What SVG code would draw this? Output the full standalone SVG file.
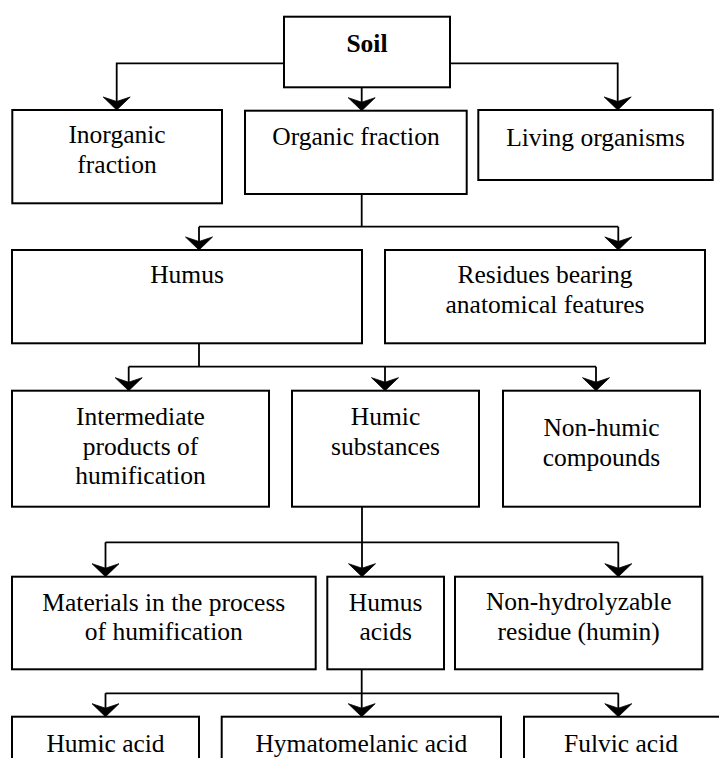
<svg xmlns="http://www.w3.org/2000/svg" width="719" height="758" viewBox="0 0 719 758">
<style>
.box{fill:#fff;stroke:#000;stroke-width:2}
.ln{fill:none;stroke:#000;stroke-width:1.8}
.ah{fill:#000;stroke:#000;stroke-width:0.8;stroke-linejoin:miter}
.t{font-family:'Liberation Serif','Times New Roman','DejaVu Serif',serif;font-size:25.5px;fill:#000;text-anchor:middle}
.b{font-weight:bold}
</style>
<defs>
<path id="ah" class="ah" d="M0,0 L-13.5,-13 L0,-8.5 L13.5,-13 Z"/>
</defs>
<rect width="719" height="758" fill="#fff"/>
<g id="connectors">
<path class="ln" d="M284,63.3 H116.7 V104"/>
<path class="ln" d="M450,63.3 H617.7 V104"/>
<path class="ln" d="M361.7,87.3 V104"/>
<path class="ln" d="M361.7,194 V226.7 M199,226.7 H618.3 M199,226.7 V244 M618.3,226.7 V244"/>
<path class="ln" d="M199,343.3 V366.7 M128.7,366.7 H596 M128.7,366.7 V384 M385,366.7 V384 M596,366.7 V384"/>
<path class="ln" d="M362,506.7 V570 M105.5,542.3 H618.3 M105.5,542.3 V570 M618.3,542.3 V570"/>
<path class="ln" d="M361.7,669.3 V710 M105.5,693.3 H618.3 M105.5,693.3 V710 M618.3,693.3 V710"/>
<use href="#ah" x="116.7" y="110"/>
<use href="#ah" x="617.7" y="110"/>
<use href="#ah" x="361.7" y="110.7"/>
<use href="#ah" x="199" y="250"/>
<use href="#ah" x="618.3" y="250"/>
<use href="#ah" x="128.7" y="390.7"/>
<use href="#ah" x="385" y="390.7"/>
<use href="#ah" x="596" y="390.7"/>
<use href="#ah" x="105.5" y="576.7"/>
<use href="#ah" x="362" y="576.7"/>
<use href="#ah" x="618.3" y="576.7"/>
<use href="#ah" x="105.5" y="716.7"/>
<use href="#ah" x="361.7" y="716.7"/>
<use href="#ah" x="618.3" y="716.7"/>
</g>
<g id="soil"><rect class="box" x="284" y="16.7" width="166" height="70.6"/><text class="t b" x="367" y="52">Soil</text></g>
<g id="inorganic"><rect class="box" x="12.3" y="110" width="209.7" height="93.3"/><text class="t" x="117" y="143.3">Inorganic</text><text class="t" x="117" y="173.3">fraction</text></g>
<g id="organic"><rect class="box" x="245" y="110.7" width="221.7" height="83.3"/><text class="t" x="356" y="145">Organic fraction</text></g>
<g id="living"><rect class="box" x="478.3" y="110" width="234.4" height="70"/><text class="t" x="595.5" y="146">Living organisms</text></g>
<g id="humus"><rect class="box" x="12" y="250" width="350" height="93.3"/><text class="t" x="187" y="283.3">Humus</text></g>
<g id="residues"><rect class="box" x="385" y="250" width="320" height="93.3"/><text class="t" x="545" y="283">Residues bearing</text><text class="t" x="545" y="313">anatomical features</text></g>
<g id="intermediate"><rect class="box" x="12" y="390.7" width="257" height="116"/><text class="t" x="140.5" y="425">Intermediate</text><text class="t" x="140.5" y="455">products of</text><text class="t" x="140.5" y="484">humification</text></g>
<g id="humic-substances"><rect class="box" x="292" y="390.7" width="187" height="116"/><text class="t" x="385.5" y="425">Humic</text><text class="t" x="385.5" y="455">substances</text></g>
<g id="non-humic"><rect class="box" x="503" y="390.7" width="197" height="116"/><text class="t" x="601.5" y="436">Non-humic</text><text class="t" x="601.5" y="466">compounds</text></g>
<g id="materials"><rect class="box" x="12" y="576.7" width="303.7" height="92.6"/><text class="t" x="163.8" y="611">Materials in the process</text><text class="t" x="163.8" y="640">of humification</text></g>
<g id="humus-acids"><rect class="box" x="327.3" y="576.7" width="116.7" height="92.6"/><text class="t" x="385.7" y="611">Humus</text><text class="t" x="385.7" y="640">acids</text></g>
<g id="non-hydrolyzable"><rect class="box" x="455" y="576.7" width="247.3" height="92.6"/><text class="t" x="578.7" y="610">Non-hydrolyzable</text><text class="t" x="578.7" y="639.5">residue (humin)</text></g>
<g id="humic-acid"><rect class="box" x="12" y="716.7" width="187" height="60"/><text class="t" x="105.5" y="751.5">Humic acid</text></g>
<g id="hymatomelanic-acid"><rect class="box" x="221.7" y="716.7" width="279.3" height="60"/><text class="t" x="361.3" y="751.5">Hymatomelanic acid</text></g>
<g id="fulvic-acid"><rect class="box" x="524" y="716.7" width="210" height="60"/><text class="t" x="621" y="751.5">Fulvic acid</text></g>
</svg>
